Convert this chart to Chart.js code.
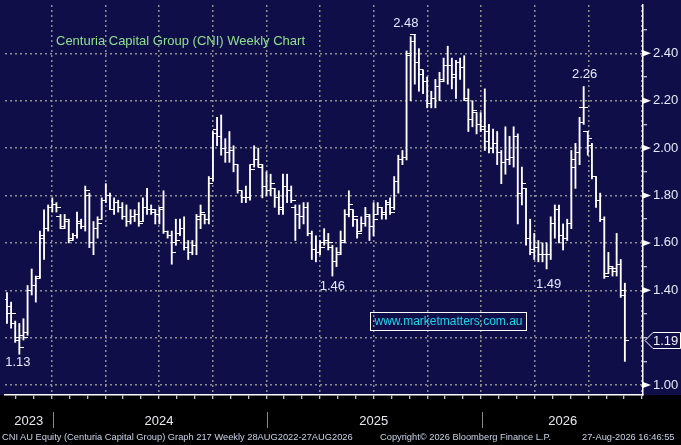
<!DOCTYPE html>
<html>
<head>
<meta charset="utf-8">
<title>Centuria Capital Group (CNI) Weekly Chart</title>
<script src="https://cdn.jsdelivr.net/npm/chart.js@4.4.1/dist/chart.umd.min.js"></script>
<style>
  html, body { margin: 0; padding: 0; background: #000; }
  #wrap { position: relative; width: 681px; height: 445px; overflow: hidden; }
  #wrap canvas { position: absolute; left: 0; top: 0; }
  .note { position: absolute; font-family: "Liberation Sans", Arial, sans-serif; white-space: nowrap; }
  #title { left: 56px; top: 33px; font-size: 13px; color: #8fe08f; }
  #site { left: 370px; top: 312px; width: 155px; height: 17px; border: 1px solid #ffffff; color: #1ad6ee; font-size: 12px; line-height: 17px; text-align: center; }
  .foot { top: 432px; font-size: 9.3px; color: #c9d2e6; }
</style>
</head>
<body>
<div id="wrap">
  <canvas id="cni" width="681" height="445"></canvas>
  <div class="note" id="title">Centuria Capital Group (CNI) Weekly Chart</div>
  <div class="note" id="site">www.marketmatters.com.au</div>
  <div class="note foot" style="left:2px">CNI AU Equity (Centuria Capital Group) Graph 217 Weekly 28AUG2022-27AUG2026</div>
  <div class="note foot" style="left:380px">Copyright© 2026 Bloomberg Finance L.P.</div>
  <div class="note foot" style="left:582px">27-Aug-2026 16:46:55</div>
</div>
<script>
// weekly OHLC, one entry per week, oldest first
const opens = [
  1.36,1.33,1.26,1.20,1.21,1.22,1.40,1.42,1.46,1.62,1.66,1.75,1.76,1.71,1.67,1.69,1.62,1.63,1.68,1.67,1.80,1.60,1.66,1.70,1.78,
  1.80,1.74,1.77,1.75,1.71,1.69,1.71,1.72,1.69,1.75,1.74,1.73,1.72,1.75,1.65,1.63,1.60,1.64,1.66,1.58,1.56,1.59,1.70,1.72,1.70,
  1.87,2.08,2.05,2.00,1.98,1.99,1.93,1.82,1.79,1.79,1.93,1.95,1.92,1.84,1.82,1.83,1.79,1.74,1.84,1.82,1.75,1.72,1.71,1.75,1.64,1.57,1.56,1.60,1.61,1.58,
  1.52,1.56,1.61,1.72,1.74,1.70,1.65,1.68,1.71,1.67,1.72,1.75,1.72,1.77,1.75,1.86,1.95,1.96,2.39,2.48,2.36,2.31,2.28,2.19,
  2.21,2.26,2.29,2.35,2.35,2.31,2.36,2.34,2.20,2.12,2.15,2.10,2.09,2.07,2.00,2.02,1.98,1.94,1.95,1.96,2.05,1.81,1.83,1.62,
  1.57,1.58,1.55,1.55,1.55,1.68,1.74,1.63,1.62,1.68,1.95,1.98,2.17,2.07,2.01,1.88,1.78,1.70,1.47,1.49,1.48,1.51,1.38
];
const highs = [
  1.39,1.35,1.27,1.26,1.28,1.42,1.49,1.46,1.65,1.74,1.76,1.79,1.77,1.72,1.72,1.70,1.64,1.73,1.70,1.84,1.81,1.69,1.71,1.79,1.85,
  1.81,1.79,1.78,1.77,1.76,1.74,1.74,1.77,1.79,1.83,1.76,1.74,1.75,1.82,1.65,1.65,1.70,1.70,1.71,1.61,1.61,1.72,1.76,1.72,1.88,
  2.07,2.13,2.14,2.04,2.07,2.01,1.93,1.82,1.84,1.93,2.01,2.00,1.93,1.90,1.89,1.83,1.82,1.89,1.89,1.84,1.76,1.76,1.77,1.77,1.65,1.63,1.61,1.66,1.64,1.59,
  1.58,1.65,1.74,1.82,1.74,1.70,1.71,1.75,1.72,1.77,1.77,1.75,1.78,1.79,1.88,1.97,1.99,2.41,2.47,2.48,2.42,2.33,2.30,2.24,
  2.29,2.32,2.38,2.43,2.38,2.37,2.38,2.39,2.25,2.20,2.15,2.15,2.25,2.10,2.08,2.07,1.99,2.09,2.05,2.09,2.06,1.92,1.83,1.70,
  1.64,1.61,1.60,1.60,1.71,1.76,1.76,1.68,1.70,1.99,2.02,2.13,2.26,2.07,2.02,1.88,1.81,1.71,1.56,1.50,1.64,1.53,1.43
];
const lows = [
  1.26,1.24,1.18,1.13,1.19,1.21,1.38,1.35,1.45,1.53,1.65,1.73,1.73,1.66,1.66,1.60,1.61,1.62,1.66,1.65,1.58,1.55,1.62,1.70,1.77,
  1.74,1.72,1.73,1.70,1.67,1.68,1.69,1.67,1.69,1.72,1.72,1.68,1.68,1.64,1.62,1.51,1.59,1.63,1.57,1.53,1.55,1.55,1.66,1.68,1.68,
  1.86,2.01,1.97,1.94,1.94,1.90,1.81,1.77,1.77,1.78,1.92,1.92,1.79,1.80,1.80,1.75,1.72,1.72,1.77,1.77,1.61,1.66,1.68,1.63,1.53,1.52,1.55,1.59,1.57,1.46,
  1.50,1.55,1.60,1.71,1.67,1.62,1.65,1.67,1.61,1.63,1.72,1.70,1.70,1.72,1.74,1.81,1.93,1.95,2.20,2.27,2.24,2.23,2.17,2.17,
  2.17,2.20,2.28,2.27,2.25,2.21,2.29,2.20,2.07,2.09,2.06,2.07,1.99,1.98,1.98,1.93,1.85,1.89,1.93,1.92,1.68,1.76,1.59,1.55,
  1.53,1.52,1.52,1.49,1.53,1.62,1.60,1.57,1.61,1.66,1.83,1.93,2.10,1.97,1.87,1.75,1.69,1.45,1.47,1.46,1.46,1.37,1.10
];
const closes = [
  1.30,1.30,1.19,1.16,1.20,1.40,1.42,1.45,1.63,1.66,1.75,1.76,1.75,1.66,1.70,1.61,1.63,1.69,1.67,1.82,1.60,1.66,1.68,1.78,1.80,
  1.74,1.77,1.75,1.71,1.69,1.71,1.72,1.68,1.75,1.74,1.74,1.72,1.74,1.65,1.63,1.56,1.61,1.66,1.58,1.56,1.59,1.71,1.73,1.70,1.85,
  2.06,2.05,2.00,1.98,1.99,1.93,1.82,1.79,1.79,1.91,1.95,1.93,1.84,1.82,1.85,1.79,1.75,1.84,1.82,1.78,1.72,1.71,1.75,1.64,1.57,1.56,1.58,1.61,1.60,1.52,
  1.55,1.60,1.72,1.76,1.71,1.64,1.68,1.72,1.67,1.70,1.75,1.73,1.76,1.73,1.86,1.95,1.96,2.40,2.45,2.36,2.33,2.28,2.19,2.21,
  2.26,2.28,2.35,2.35,2.30,2.36,2.34,2.21,2.12,2.16,2.10,2.08,2.03,2.00,2.02,1.98,1.94,1.95,1.96,2.05,1.81,1.85,1.62,1.56,
  1.58,1.55,1.55,1.55,1.68,1.74,1.63,1.62,1.68,1.92,1.98,2.11,2.17,2.04,1.88,1.78,1.70,1.46,1.50,1.49,1.51,1.40,1.19
];

// axis labels
const yearLabels = ['2023', '2024', '2025', '2026'];
const yearLabelWeeks = [5.3, 36.9, 89.2, 134.9];
const yearStartWeeks = [11.1, 63.1, 115.2];
const yTickValues = [1.0, 1.1, 1.2, 1.3, 1.4, 1.5, 1.6, 1.7, 1.8, 1.9, 2.0, 2.1, 2.2, 2.3, 2.4, 2.5];
const yTickLabels = ['1.00', '', '', '', '1.40', '', '1.60', '', '1.80', '', '2.00', '', '2.20', '', '2.40', ''];

// marked turning points: week index and which end of the bar
const turningPoints = [
  { week: 99, end: 'high', dx: -9, dy: -11 },
  { week: 140, end: 'high', dx: 1, dy: -12.5 },
  { week: 79, end: 'low', dx: 0, dy: 10.5 },
  { week: 131, end: 'low', dx: 2, dy: 15.5 },
  { week: 3, end: 'low', dx: -1.5, dy: 8 }
];

const NAVY = '#100e48';
const GRID = '#8e8e8e';
const FONT = '"Liberation Sans", Arial, sans-serif';

const weeks = highs.map((_, i) => i);

// month ticks along the time axis, every third one is a quarter gridline
const firstQuarter = 10.84;
const weeksPerMonth = 13.03 / 3;
const xTicks = [];
for (let m = -2; m <= 33; m++) {
  const v = firstQuarter + m * weeksPerMonth;
  if (v < -0.4 || v > 154.3) continue;
  xTicks.push({ value: v, kind: (m % 3 === 0) ? 'quarter' : 'month', label: '' });
}
yearLabels.forEach((lab, k) => {
  const w = yearLabelWeeks[k];
  const near = xTicks.find(t => Math.abs(t.value - w) < 0.4);
  if (near) near.label = lab;
  else xTicks.push({ value: w, kind: 'label', label: lab });
});
xTicks.sort((a, b) => a.value - b.value);

function tickImage(side) {
  const c = document.createElement('canvas');
  c.width = 9; c.height = 1;
  const g = c.getContext('2d');
  g.fillStyle = '#ffffff';
  if (side === 'open') g.fillRect(0, 0, 5, 1);
  else g.fillRect(4, 0, 5, 1);
  return c;
}

const decorations = {
  id: 'decorations',
  beforeDraw(chart) {
    const { ctx, chartArea, width, height } = chart;
    ctx.save();
    ctx.fillStyle = '#000000';
    ctx.fillRect(0, 0, width, height);
    ctx.fillStyle = NAVY;
    ctx.fillRect(0, 0, width, chartArea.bottom);
    ctx.restore();
  },
  afterDraw(chart) {
    const { ctx, chartArea, width, scales } = chart;
    const x = scales.x, y = scales.y;
    ctx.save();

    // year separators under the axis
    ctx.strokeStyle = '#8a8a8a';
    ctx.lineWidth = 1;
    yearStartWeeks.forEach(w => {
      const px = Math.round(x.getPixelForValue(w)) + 0.5;
      ctx.beginPath();
      ctx.moveTo(px, chartArea.bottom + 17);
      ctx.lineTo(px, chartArea.bottom + 33);
      ctx.stroke();
    });

    // little arrow heads at labelled price ticks
    ctx.fillStyle = '#ffffff';
    yTickValues.forEach((v, i) => {
      if (!yTickLabels[i]) return;
      const py = y.getPixelForValue(v);
      ctx.beginPath();
      ctx.moveTo(chartArea.right, py - 3);
      ctx.lineTo(chartArea.right + 8, py);
      ctx.lineTo(chartArea.right, py + 3);
      ctx.closePath();
      ctx.fill();
    });

    // turning point values
    ctx.font = '13px ' + FONT;
    ctx.fillStyle = '#e2eaff';
    ctx.textAlign = 'center';
    ctx.textBaseline = 'middle';
    turningPoints.forEach(p => {
      const v = p.end === 'high' ? highs[p.week] : lows[p.week];
      ctx.fillText(v.toFixed(2), x.getPixelForValue(p.week) + p.dx, y.getPixelForValue(v) + p.dy);
    });

    // last price tag
    const last = closes[closes.length - 1];
    const ty = Math.round(y.getPixelForValue(last)) + 0.5;
    const tx = chartArea.right + 2;
    ctx.beginPath();
    ctx.moveTo(tx, ty);
    ctx.lineTo(tx + 8, ty - 8);
    ctx.lineTo(width - 0.5, ty - 8);
    ctx.lineTo(width - 0.5, ty + 8);
    ctx.lineTo(tx + 8, ty + 8);
    ctx.closePath();
    ctx.fillStyle = NAVY;
    ctx.fill();
    ctx.strokeStyle = '#ffffff';
    ctx.lineWidth = 1;
    ctx.stroke();
    ctx.fillStyle = '#f2f2f2';
    ctx.font = '13px ' + FONT;
    ctx.textAlign = 'left';
    ctx.fillText(last.toFixed(2), tx + 8, ty + 1);

    ctx.restore();
  }
};

const ctx = document.getElementById('cni').getContext('2d');
new Chart(ctx, {
  type: 'line',
  data: {
    datasets: [
      {
        type: 'bar',
        label: 'Range',
        data: weeks.map(i => ({ x: i, y: [lows[i], highs[i]] })),
        backgroundColor: '#ffffff',
        borderWidth: 0,
        barThickness: 1.2,
        order: 2
      },
      {
        label: 'Open',
        data: weeks.map(i => ({ x: i, y: opens[i] })),
        showLine: false,
        pointStyle: tickImage('open'),
        pointRadius: 4,
        pointHoverRadius: 4,
        order: 1
      },
      {
        label: 'Close',
        data: weeks.map(i => ({ x: i, y: closes[i] })),
        showLine: false,
        pointStyle: tickImage('close'),
        pointRadius: 4,
        pointHoverRadius: 4,
        order: 1
      }
    ]
  },
  options: {
    responsive: false,
    animation: false,
    events: [],
    layout: { padding: 0 },
    plugins: {
      legend: { display: false },
      tooltip: { enabled: false },
      title: { display: false }
    },
    scales: {
      x: {
        type: 'linear',
        position: 'bottom',
        min: -0.48,
        max: 154.4,
        offset: false,
        grid: {
          offset: false,
          lineWidth: 1.5,
          color: c => (xTicks[c.index] && xTicks[c.index].kind === 'quarter') ? GRID : 'rgba(0,0,0,0)',
          tickColor: c => (xTicks[c.index] && xTicks[c.index].kind !== 'label') ? '#ffffff' : 'rgba(0,0,0,0)',
          tickLength: 4,
          tickWidth: 1
        },
        border: { color: '#ffffff', width: 1.5, dash: [2, 3] },
        ticks: {
          autoSkip: false,
          maxRotation: 0,
          minRotation: 0,
          padding: 15,
          color: '#e8e8ee',
          font: { family: FONT, size: 13 },
          callback: (v, i) => (xTicks[i] ? xTicks[i].label : '')
        },
        afterBuildTicks: s => { s.ticks = xTicks.map(t => ({ value: t.value })); },
        afterFit: s => { s.height = 50; s.paddingLeft = 0; s.paddingRight = 0; }
      },
      y: {
        type: 'linear',
        position: 'right',
        min: 0.958,
        max: 2.604,
        grid: {
          lineWidth: 1.5,
          color: c => (yTickLabels[c.index] !== undefined && Math.round(yTickValues[c.index] * 10) % 2 === 0) ? GRID : 'rgba(0,0,0,0)',
          tickColor: '#ffffff',
          tickLength: 4,
          tickWidth: 1
        },
        border: { color: '#ffffff', width: 1.5, dash: [2, 3] },
        ticks: {
          padding: 6,
          color: '#e4ecfa',
          font: { family: FONT, size: 13 },
          callback: (v, i) => yTickLabels[i] || ''
        },
        afterBuildTicks: s => { s.ticks = yTickValues.map(v => ({ value: v })); },
        afterFit: s => { s.width = 38; s.paddingTop = 0; s.paddingBottom = 0; }
      }
    }
  },
  plugins: [decorations]
});
</script>
</body>
</html>
